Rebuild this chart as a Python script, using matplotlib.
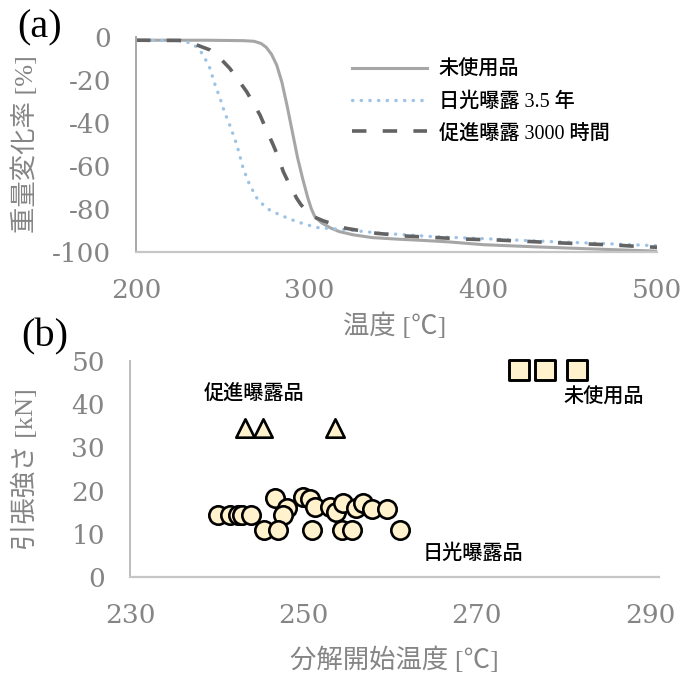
import matplotlib
matplotlib.use("Agg")
import matplotlib.pyplot as plt

plt.rcParams['font.family'] = ['DejaVu Serif', 'Noto Sans CJK JP']
plt.rcParams['axes.unicode_minus'] = False

# (a) weight change vs temperature
temp_new = [200, 240, 262, 268, 272, 275, 278, 281, 284, 287, 290, 293, 296, 299, 301, 303,
            307, 312, 317, 325, 336, 350, 365, 380, 400, 430, 460, 500]
loss_new = [-1.5, -1.5, -1.7, -2.0, -3.0, -4.8, -8.0, -13, -21, -32, -44, -56, -66, -75, -80, -83.6,
            -86.5, -88.8, -90.5, -92.0, -93.3, -94.0, -94.6, -95.3, -96.6, -97.6, -98.5, -99.6]

temp_sun = [200, 224, 229, 233, 236, 239, 242.6, 245, 248.4, 251, 254, 258, 261.7, 264.5, 267.6,
            270, 273.3, 277, 283, 292.5, 304, 320, 340, 370, 400, 440, 470, 500]
loss_sun = [-1.5, -1.6, -2.2, -3.5, -5.3, -8.8, -14.6, -21, -28.5, -35, -41, -50, -61, -67, -72,
            -75.5, -78.1, -80.5, -82.8, -85.9, -88.6, -89.6, -91.2, -92.8, -93.8, -95.2, -96.1, -97.1]

temp_acc = [200, 225, 230, 235, 242.6, 248, 254, 258, 263.7, 267, 271.4, 275, 279, 282, 284.8,
            288, 292.5, 295, 298.3, 302, 307.5, 321, 338.5, 356, 373, 390, 407.5, 442, 474, 491, 500]
loss_acc = [-1.5, -1.6, -2.2, -3.7, -6, -9.5, -14.6, -19, -25.4, -30, -36.3, -43, -50.2, -56, -62.6,
            -68, -75, -78, -81.2, -83.5, -85.4, -89, -91.3, -92.6, -93.3, -94, -94.4, -95.7, -96.7,
            -97.5, -97.8]

legend_labels = ["未使用品", "日光曝露 3.5 年", "促進曝露 3000 時間"]
a_xticks = [200, 300, 400, 500]
a_yticks = [0, -20, -40, -60, -80, -100]

# (b) tensile strength vs decomposition onset temperature
sun_x = [240.2, 241.5, 242.4, 242.9, 243.9,
         246.7, 248.1, 247.7,
         250.0, 250.8, 251.3, 253.1, 253.8, 254.6, 256.1, 256.9, 257.9, 259.6,
         245.4, 247.1, 251.0, 254.4, 255.6, 261.1]
sun_y = [14.3, 14.3, 14.3, 14.3, 14.3,
         18.2, 15.9, 14.4,
         18.6, 18.0, 16.3, 16.1, 15.1, 17.1, 15.9, 17.1, 15.7, 15.7,
         10.9, 10.9, 10.9, 10.9, 10.9, 10.9]
acc_x = [243.3, 245.3, 253.6]
acc_y = [34.6, 34.6, 34.6]
new_x = [274.9, 277.9, 281.6]
new_y = [48.0, 48.0, 48.0]
b_xticks = [230, 250, 270, 290]
b_yticks = [0, 10, 20, 30, 40, 50]

gray_txt = '#858585'
jp_sans = ['Noto Sans CJK JP', 'DejaVu Sans']
mixed = ['Liberation Serif', 'Noto Sans CJK JP']

fig = plt.figure(figsize=(6.87, 6.78), dpi=100)
ax1 = fig.add_axes([136 / 687, 1 - 252 / 678, 521 / 687, 215 / 678])
ax2 = fig.add_axes([130 / 687, 1 - 577 / 678, 529 / 687, 216 / 678])

# ---- panel (a)
ax1.plot(temp_new, loss_new, color='#a6a6a6', lw=2.2, label=legend_labels[0])
ax1.plot(temp_sun, loss_sun, color='#9dc3e6', lw=2.4, linestyle=(0, (0.1, 2.5)),
         dash_capstyle='round', label=legend_labels[1])
ax1.plot(temp_acc, loss_acc, color='#636363', lw=2.6, linestyle=(0, (4.0, 4.5)),
         label=legend_labels[2])
ax1.set_xlim(200, 500)
ax1.set_ylim(-100, 0)
ax1.set_xticks(a_xticks)
ax1.set_yticks(a_yticks)

leg = ax1.legend(loc='upper left', bbox_to_anchor=(0.415, 0.89), frameon=False,
                 borderpad=0, borderaxespad=0, handlelength=3.7, handletextpad=0.6,
                 labelspacing=0.62, prop={'size': 14.5, 'family': mixed})
for t in leg.get_texts():
    t.set_fontweight('medium')

ax1.set_xlabel("温度 [℃]", fontsize=19, color=gray_txt, family=mixed)
ax1.xaxis.set_label_coords(0.497, -0.344)
ax1.xaxis.label.set_va('center')
ax1.set_ylabel("重量変化率 [%]", fontsize=19, color=gray_txt, family=mixed)
ax1.yaxis.set_label_coords(-0.213, 0.5)
ax1.yaxis.label.set_va('center')

# ---- panel (b)
ax2.scatter(sun_x, sun_y, s=175, marker='o', facecolor='#fff2cc', edgecolor='black',
            linewidths=1.9, zorder=3, clip_on=False)
ax2.scatter(acc_x, acc_y, s=175, marker='^', facecolor='#fff2cc', edgecolor='black',
            linewidths=1.9, zorder=3, clip_on=False)
ax2.scatter(new_x, new_y, s=220, marker='s', facecolor='#fff2cc', edgecolor='black',
            linewidths=2.1, zorder=3, clip_on=False)
ax2.set_xlim(230, 291)
ax2.set_ylim(0, 50)
ax2.set_xticks(b_xticks)
ax2.set_yticks(b_yticks)

ax2.text(244.3, 42.4, "促進曝露品", ha='center', va='center', fontsize=14.5, family=jp_sans,
         fontweight='medium')
ax2.text(284.6, 41.7, "未使用品", ha='center', va='center', fontsize=14.5, family=jp_sans,
         fontweight='medium')
ax2.text(269.6, 5.6, "日光曝露品", ha='center', va='center', fontsize=14.5, family=jp_sans,
         fontweight='medium')

ax2.set_xlabel("分解開始温度 [℃]", fontsize=19, color=gray_txt, family=mixed)
ax2.xaxis.set_label_coords(0.50, -0.384)
ax2.xaxis.label.set_va('center')
ax2.set_ylabel("引張強さ [kN]", fontsize=19, color=gray_txt, family=mixed)
ax2.yaxis.set_label_coords(-0.198, 0.5)
ax2.yaxis.label.set_va('center')

for ax in (ax1, ax2):
    for side in ('top', 'right'):
        ax.spines[side].set_visible(False)
    ax.spines['bottom'].set_color('#c6c6c6')
    ax.spines['bottom'].set_linewidth(1.6)
    ax.spines['left'].set_color('#bdbdbd')
    ax.spines['left'].set_linewidth(1.4)
    ax.tick_params(axis='both', length=0, labelsize=19, labelcolor=gray_txt)
    ax.tick_params(axis='x', pad=19)
    ax.tick_params(axis='y', pad=18)
ax1.spines['left'].set_color('#a8a8a8')

fig.text(40 / 687, 1 - 28 / 678, "(a)", fontsize=29, ha='center', va='center', family='Liberation Serif')
fig.text(45 / 687, 1 - 337 / 678, "(b)", fontsize=29, ha='center', va='center', family='Liberation Serif')

fig.savefig("out.png", dpi=100)
